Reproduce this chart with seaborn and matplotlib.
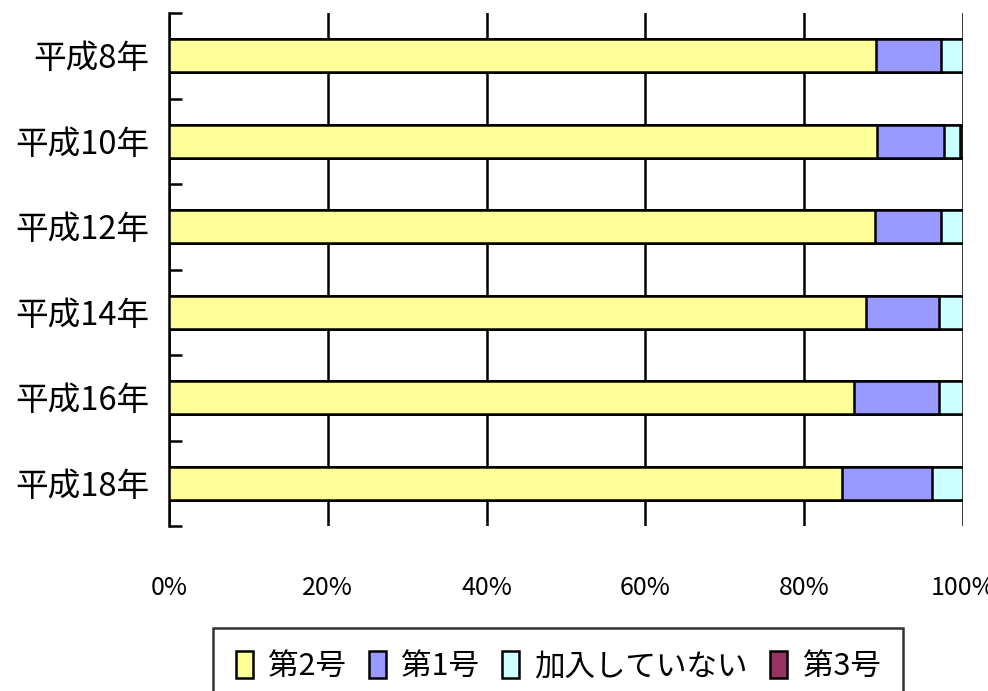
import matplotlib
matplotlib.use("Agg")
import matplotlib.pyplot as plt
import seaborn as sns
import pandas as pd
import numpy as np
from matplotlib.patches import Patch

# ---- data ----
years = ["平成8年", "平成10年", "平成12年", "平成14年", "平成16年", "平成18年"]
series_names = ["第2号", "第1号", "加入していない", "第3号"]
no2 = [89.0, 89.2, 88.9, 87.8, 86.3, 84.8]
no1 = [8.2, 8.4, 8.3, 9.2, 10.7, 11.3]
none_joined = [2.8, 2.0, 2.8, 3.0, 3.0, 3.9]
no3 = [0.0, 0.4, 0.0, 0.0, 0.0, 0.0]
x_ticks = [0, 20, 40, 60, 80, 100]
x_tick_labels = ["0%", "20%", "40%", "60%", "80%", "100%"]
colors = ["#FFFF99", "#9999FF", "#CCFFFF", "#993366"]

sns.set_theme(style="white")
plt.rcParams['font.family'] = ['Noto Sans CJK JP', 'DejaVu Sans']
plt.rcParams['text.color'] = 'black'

df = pd.DataFrame({"year": years, "第2号": no2, "第1号": no1,
                   "加入していない": none_joined, "第3号": no3})
cum = df[series_names].cumsum(axis=1)

fig = plt.figure(figsize=(9.88, 6.91), dpi=100)
ax = fig.add_axes([169/988, 1-526/691, (963-169)/988, (526-13)/691])

# draw from the outermost cumulative layer inward
for name, col in reversed(list(zip(series_names, colors))):
    sns.barplot(x=cum[name], y=df["year"], orient="h", color=col,
                width=0.39, edgecolor="black", linewidth=1.8,
                saturation=1, ax=ax, zorder=3)

ax.set_xlim(0, 100)
ax.set_ylim(5.5, -0.5)
ax.set_xlabel("")
ax.set_ylabel("")

ax.set_xticks(x_ticks)
ax.set_xticklabels(x_tick_labels, fontsize=18)
ax.tick_params(axis="x", length=0, pad=35, colors="black")

ax.set_yticks(range(len(years)))
ax.set_yticklabels(years, fontsize=23.5)
ax.tick_params(axis="y", which="major", length=0, pad=14, colors="black")
ax.set_yticks(np.arange(-0.5, len(years), 1.0), minor=True)
ax.tick_params(axis="y", which="minor", direction="in", length=9,
               width=1.8, color="black", left=True)

ax.grid(axis="x", color="black", linewidth=1.8, zorder=0)
ax.grid(axis="y", visible=False)
ax.set_axisbelow(True)
for s in ["top", "right", "bottom"]:
    ax.spines[s].set_visible(False)
ax.spines["left"].set_color("black")
ax.spines["left"].set_linewidth(1.8)

handles = [Patch(facecolor=c, edgecolor="black", linewidth=1.8) for c in colors]
leg = fig.legend(handles, series_names, loc="upper left",
                 bbox_to_anchor=(213/988, 1-628/691), ncol=4,
                 fontsize=22, frameon=True, fancybox=False,
                 handlelength=0.55, handleheight=1.0, handletextpad=0.5,
                 columnspacing=0.75, borderpad=0.75, borderaxespad=0)
leg.get_frame().set_edgecolor("black")
leg.get_frame().set_linewidth(1.8)
for t in leg.get_texts():
    t.set_color("black")

fig.savefig("out.png", dpi=100)
